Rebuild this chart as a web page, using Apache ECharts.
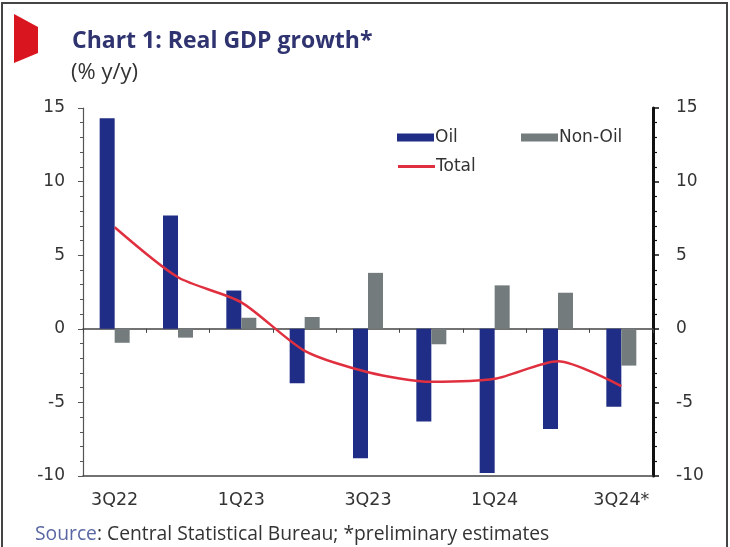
<!DOCTYPE html>
<html>
<head>
<meta charset="utf-8">
<script src="https://cdn.jsdelivr.net/npm/echarts@6/dist/echarts.min.js"></script>
<style>
html,body{margin:0;padding:0;background:#fff;}
#c{width:730px;height:547px;}
</style>
</head>
<body>
<div id="c"></div>
<script>
var categories = ['3Q22','4Q22','1Q23','2Q23','3Q23','4Q23','1Q24','2Q24','3Q24*'];
var oil = [14.3, 7.7, 2.6, -3.7, -8.8, -6.3, -9.8, -6.8, -5.3];
var nonOil = [-0.95, -0.6, 0.75, 0.8, 3.8, -1.05, 2.95, 2.45, -2.5];
var total = [6.9, 3.5, 1.8, -1.5, -2.95, -3.6, -3.4, -2.2, -3.9];
var yTicks = [-10, -5, 0, 5, 10, 15];

var chart = echarts.init(document.getElementById('c'));
var labelFont = '"DejaVu Sans", sans-serif';
var textFont = '"Open Sans", "Noto Sans", sans-serif';
chart.setOption({
  backgroundColor: '#fff',
  animation: false,
  graphic: [
    {type:'rect', shape:{x:2,y:3,width:725,height:560}, style:{fill:'none', stroke:'#444', lineWidth:2}},
    {type:'polygon', shape:{points:[[14,14],[38,27],[38,53],[14,63]]}, style:{fill:'#d9161f'}},
    {type:'text', left:72, top:30, style:{text:'Chart 1: Real GDP growth*', fill:'#2f3470', font:'bold 23px ' + textFont}},
    {type:'text', left:71, top:62, style:{text:'(% y/y)', fill:'#333', font:'22px ' + textFont}},
    {type:'text', left:35, top:525, style:{
      text:'{a|Source}{b|: Central Statistical Bureau; *preliminary estimates}',
      rich:{a:{fill:'#5a67a3', font:'19.3px ' + textFont}, b:{fill:'#333', font:'19.3px ' + textFont}}
    }}
  ],
  legend: [
    {data:[{name:'Oil', icon:'rect'}], left:392, top:124, itemWidth:37, itemHeight:8, itemGap:4, textStyle:{fontSize:17, color:'#333', fontFamily:labelFont, padding:[0,0,0,-4]}},
    {data:[{name:'Non-Oil', icon:'rect'}], left:516, top:124, itemWidth:37, itemHeight:8, textStyle:{fontSize:17, color:'#333', fontFamily:labelFont, padding:[0,0,0,-4]}},
    {data:[{name:'Total', icon:'rect'}], left:393, top:153, itemWidth:37, itemHeight:3, textStyle:{fontSize:17, color:'#333', fontFamily:labelFont, padding:[0,0,0,-4]}}
  ],
  grid: {left:83, right:77, top:108, bottom:71},
  xAxis: [
    {type:'category', data:categories, position:'bottom',
     axisLine:{onZero:false, lineStyle:{color:'#444', width:1.5}},
     axisTick:{show:false},
     axisLabel:{interval:1, margin:15, fontSize:17.5, color:'#333', fontFamily:labelFont}},
    {type:'category', data:categories, position:'bottom',
     axisLine:{onZero:true, onZeroAxisIndex:0, lineStyle:{color:'#444', width:1.5}},
     axisTick:{show:true, length:4, lineStyle:{color:'#444'}},
     axisLabel:{show:false}}
  ],
  yAxis: [
    {type:'value', min:-10, max:15, interval:5, position:'left',
     axisLine:{show:true, lineStyle:{color:'#555', width:1.2}},
     axisTick:{show:true, length:5, lineStyle:{color:'#555'}},
     minorTick:{show:true, splitNumber:5, length:3, lineStyle:{color:'#555'}},
     splitLine:{show:false},
     axisLabel:{margin:18, fontSize:17, color:'#333', fontFamily:labelFont,
       formatter:function(v){return yTicks.indexOf(v)>=0 ? String(v) : '';}}},
    {type:'value', min:-10, max:15, interval:5, position:'right',
     axisLine:{show:true, lineStyle:{color:'#111', width:3}},
     axisTick:{show:true, length:6, lineStyle:{color:'#111', width:1.5}},
     minorTick:{show:true, splitNumber:5, length:4, lineStyle:{color:'#111', width:1.2}},
     splitLine:{show:false},
     axisLabel:{margin:23, fontSize:17, color:'#333', fontFamily:labelFont}}
  ],
  series: [
    {name:'Oil', type:'bar', data:oil, barWidth:15, barGap:'0%', itemStyle:{color:'#1f2d86'}},
    {name:'Non-Oil', type:'bar', data:nonOil, barWidth:15, barGap:'0%', itemStyle:{color:'#737b7c'}},
    {name:'Total', type:'line', data:total, smooth:0.25, symbol:'none', lineStyle:{color:'#e0303f', width:2.5}, itemStyle:{color:'#e0303f'}, z:5}
  ]
});
</script>
</body>
</html>
